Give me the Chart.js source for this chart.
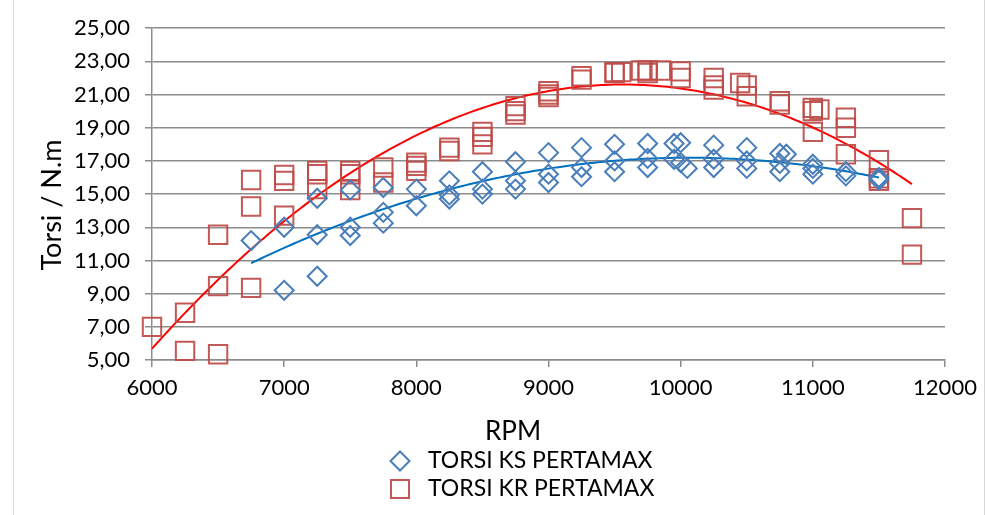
<!DOCTYPE html>
<html>
<head>
<meta charset="utf-8">
<script src="https://cdn.jsdelivr.net/npm/chart.js@4.4.1/dist/chart.umd.min.js"></script>
<style>
  html, body { margin: 0; padding: 0; background: #fff; }
  #wrap { position: relative; width: 987px; height: 515px; overflow: hidden; }
  #frame { position: absolute; left: 13px; top: 0; width: 972px; height: 515px;
           border-left: 1px solid #d9d9d9; border-right: 1px solid #d9d9d9;
           box-sizing: border-box; pointer-events: none; }
  canvas { position: absolute; left: 0; top: 0; }
</style>
</head>
<body>
<div id="wrap">
  <canvas id="chart" width="987" height="515"></canvas>
  <div id="frame"></div>
</div>
<script>
// Torque measurements, KS engine on Pertamax
const rpmKS = [
  6750,
  7000, 7000,
  7250, 7250, 7250,
  7500, 7500, 7500,
  7750, 7750, 7750,
  8000, 8000,
  8250, 8250, 8250,
  8500, 8500, 8500,
  8750, 8750, 8750,
  9000, 9000, 9000,
  9250, 9250, 9250,
  9500, 9500, 9500,
  9750, 9750, 9750,
  9950, 9950,
  10000, 10000,
  10050,
  10250, 10250, 10250,
  10500, 10500, 10500,
  10750, 10750, 10750,
  10800,
  11000, 11000, 11000,
  11250, 11250,
  11500, 11500
];
const torsiKS = [
  12.2,
  13.0, 9.2,
  14.75, 12.55, 10.05,
  15.25, 13.0, 12.5,
  15.4, 13.9, 13.25,
  15.3, 14.3,
  15.8, 14.95, 14.7,
  16.35, 15.3, 15.0,
  16.95, 15.8, 15.3,
  17.5, 16.2, 15.7,
  17.8, 16.6, 16.05,
  18.0, 17.0, 16.35,
  18.05, 17.15, 16.6,
  18.05, 17.1,
  18.1, 16.9,
  16.55,
  17.95, 17.1, 16.6,
  17.8, 17.0, 16.55,
  17.45, 16.85, 16.35,
  17.4,
  16.8, 16.55, 16.2,
  16.35, 16.1,
  16.0, 15.85
];

// Torque measurements, KR engine on Pertamax
const rpmKR = [
  6000,
  6250, 6250,
  6500, 6500, 6500,
  6750, 6750, 6750,
  7000, 7000, 7000,
  7250, 7250, 7250,
  7500, 7500, 7500,
  7750, 7750,
  8000, 8000, 8000,
  8250, 8250,
  8500, 8500, 8500,
  8750, 8750, 8750,
  9000, 9000, 9000,
  9250, 9250,
  9500, 9500,
  9550,
  9700,
  9750, 9750,
  9850,
  10000, 10000,
  10250, 10250, 10250,
  10450,
  10500, 10500,
  10750, 10750,
  11000, 11000, 11000,
  11050,
  11250, 11250, 11250,
  11500, 11500, 11500,
  11750, 11750
];
const torsiKR = [
  7.0,
  7.85, 5.55,
  12.55, 9.45, 5.35,
  15.85, 14.25, 9.35,
  16.15, 15.8, 13.7,
  16.4, 16.2, 15.3,
  16.4, 16.2, 15.25,
  16.6, 15.7,
  16.9, 16.7, 16.4,
  17.8, 17.6,
  18.75, 18.45, 18.0,
  20.3, 20.0, 19.8,
  21.2, 21.0, 20.85,
  22.1, 21.9,
  22.35, 22.3,
  22.35,
  22.45,
  22.45, 22.3,
  22.45,
  22.4, 22.0,
  22.0, 21.55, 21.3,
  21.7,
  21.55, 20.9,
  20.6, 20.4,
  20.2, 20.0, 18.75,
  20.1,
  19.6, 19.0, 17.4,
  17.05, 15.95, 15.8,
  13.55, 11.35
];

const seriesNames = ['TORSI KS PERTAMAX', 'TORSI KR PERTAMAX'];
const axisTitles = { x: 'RPM', y: 'Torsi / N.m' };

const FONT = 'Lato, "Liberation Sans", Arial, sans-serif';
const BLUE_MARK = '#4a7ebb';
const RED_MARK = 'rgba(190, 75, 72, 0.92)';
const GRID = '#8c8c8c';

function toPoints(xs, ys) {
  return xs.map((x, i) => ({ x: x, y: ys[i] }));
}

// Second-order polynomial least-squares trendline
function quadTrend(xs, ys, step) {
  const c = 9000, s = 1000;
  const S = [0, 0, 0, 0, 0], T = [0, 0, 0];
  for (let i = 0; i < xs.length; i++) {
    const u = (xs[i] - c) / s;
    let p = 1;
    for (let k = 0; k < 5; k++) {
      S[k] += p;
      if (k < 3) T[k] += ys[i] * p;
      p *= u;
    }
  }
  const A = [[S[0], S[1], S[2], T[0]], [S[1], S[2], S[3], T[1]], [S[2], S[3], S[4], T[2]]];
  for (let i = 0; i < 3; i++) {
    for (let j = i + 1; j < 3; j++) {
      const f = A[j][i] / A[i][i];
      for (let k = i; k < 4; k++) A[j][k] -= f * A[i][k];
    }
  }
  const b = [0, 0, 0];
  for (let i = 2; i >= 0; i--) {
    let v = A[i][3];
    for (let k = i + 1; k < 3; k++) v -= A[i][k] * b[k];
    b[i] = v / A[i][i];
  }
  const lo = Math.min(...xs), hi = Math.max(...xs);
  const out = [];
  for (let x = lo; x <= hi + 1e-9; x += step) {
    const u = (x - c) / s;
    out.push({ x: x, y: b[0] + b[1] * u + b[2] * u * u });
  }
  return out;
}

// Axis titles and the two-row legend below the plot
const extras = {
  id: 'extras',
  afterDraw(chart) {
    const ctx = chart.ctx;
    ctx.save();
    ctx.fillStyle = '#000';
    ctx.textBaseline = 'middle';
    ctx.textAlign = 'center';
    ctx.font = '26px ' + FONT;
    ctx.fillText(axisTitles.x, 513, 432);

    ctx.save();
    ctx.translate(52, 205);
    ctx.rotate(-Math.PI / 2);
    ctx.font = '27px ' + FONT;
    ctx.fillText(axisTitles.y, 0, 0);
    ctx.restore();

    ctx.font = '23px ' + FONT;
    ctx.textAlign = 'left';
    const mx = 400, tx = 428;
    const rows = [461, 489];
    // diamond
    ctx.lineWidth = 2;
    ctx.strokeStyle = BLUE_MARK;
    ctx.beginPath();
    ctx.moveTo(mx, rows[0] - 9.5);
    ctx.lineTo(mx + 9.5, rows[0]);
    ctx.lineTo(mx, rows[0] + 9.5);
    ctx.lineTo(mx - 9.5, rows[0]);
    ctx.closePath();
    ctx.stroke();
    ctx.fillText(seriesNames[0], tx, rows[0]);
    // square
    ctx.strokeStyle = RED_MARK;
    ctx.strokeRect(mx - 9, rows[1] - 9, 18, 18);
    ctx.fillText(seriesNames[1], tx, rows[1]);
    ctx.restore();
  }
};

new Chart(document.getElementById('chart'), {
  type: 'scatter',
  data: {
    datasets: [
      {
        label: seriesNames[0],
        data: toPoints(rpmKS, torsiKS),
        pointStyle: 'rectRot',
        pointRadius: 9.5,
        pointBorderWidth: 2,
        borderColor: BLUE_MARK,
        backgroundColor: 'rgba(0,0,0,0)',
        clip: false
      },
      {
        label: seriesNames[1],
        data: toPoints(rpmKR, torsiKR),
        pointStyle: 'rect',
        pointRadius: 13,
        pointBorderWidth: 2,
        borderColor: RED_MARK,
        backgroundColor: 'rgba(0,0,0,0)',
        clip: false
      },
      {
        type: 'line',
        label: 'trend KS',
        data: quadTrend(rpmKS, torsiKS, 25),
        borderColor: '#0070c0',
        borderWidth: 2,
        pointRadius: 0,
        fill: false,
        tension: 0
      },
      {
        type: 'line',
        label: 'trend KR',
        data: quadTrend(rpmKR, torsiKR, 25),
        borderColor: '#ff0000',
        borderWidth: 2,
        pointRadius: 0,
        fill: false,
        tension: 0
      }
    ]
  },
  options: {
    responsive: false,
    animation: false,
    layout: { padding: { top: 27, right: 42, left: 0, bottom: 0 } },
    plugins: {
      legend: { display: false },
      tooltip: { enabled: false }
    },
    scales: {
      x: {
        type: 'linear',
        min: 6000,
        max: 12000,
        afterFit(scale) { scale.height = 155; },
        ticks: {
          stepSize: 1000,
          color: '#000',
          padding: 8,
          maxRotation: 0,
          font: { family: FONT, size: 22 },
          callback: (v) => String(v)
        },
        grid: {
          drawOnChartArea: false,
          drawTicks: true,
          tickLength: 7,
          color: GRID,
          lineWidth: 1.5
        },
        border: { display: true, color: GRID, width: 1.5 }
      },
      y: {
        min: 5,
        max: 25,
        afterFit(scale) { scale.width = 152; },
        ticks: {
          stepSize: 2,
          color: '#000',
          padding: 15,
          font: { family: FONT, size: 22 },
          callback: (v) => v.toFixed(2).replace('.', ',')
        },
        grid: {
          color: GRID,
          lineWidth: 1.5,
          drawTicks: true,
          tickLength: 7
        },
        border: { display: true, color: GRID, width: 1.5 }
      }
    }
  },
  plugins: [extras]
});
</script>
</body>
</html>
